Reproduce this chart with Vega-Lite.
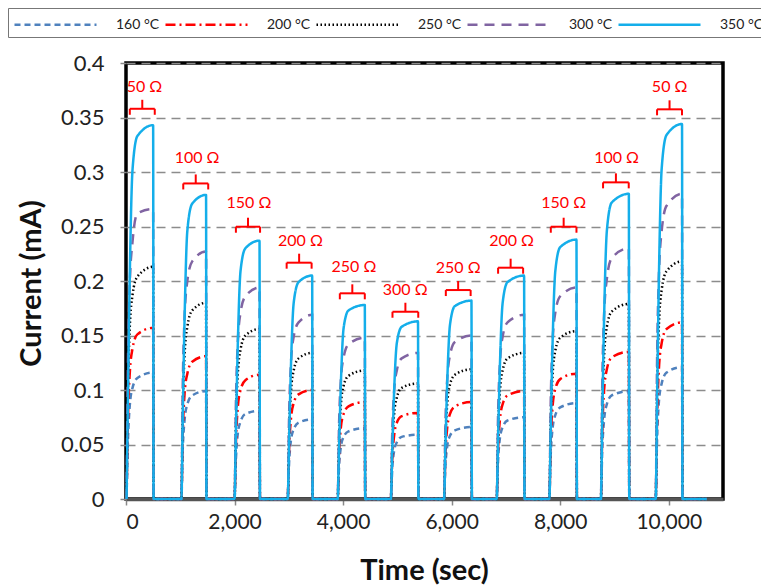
{
  "$schema": "https://vega.github.io/schema/vega-lite/v6.json",
  "width": 597,
  "height": 436,
  "autosize": {"type": "none"},
  "padding": {"left": 126, "top": 63, "right": 38, "bottom": 89},
  "background": "white",
  "config": {
    "font": "Lato",
    "view": {"stroke": "#000000", "strokeWidth": 3.5},
    "axis": {"labelFont": "Lato", "titleFont": "Lato", "labelColor": "#222222", "titleColor": "#111111"},
    "legend": {
      "orient": "none", "legendX": -118, "legendY": -55, "direction": "horizontal",
      "symbolType": "M-1,0H7.2", "symbolSize": 400, "symbolStrokeWidth": 2.5,
      "labelFont": "Lato", "labelFontSize": 14, "labelColor": "#222222", "labelOffset": 80,
      "columnPadding": 0, "strokeColor": "#777777", "padding": 5, "fillColor": "white"
    }
  },
  "datasets": {
    "curves": [
      {"t": 10, "160 °C": 0, "200 °C": 0, "250 °C": 0, "300 °C": 0, "350 °C": 0},
      {"t": 35, "160 °C": 0.052, "200 °C": 0.071, "250 °C": 0.096, "300 °C": 0.121, "350 °C": 0.089},
      {"t": 70, "160 °C": 0.086, "200 °C": 0.116, "250 °C": 0.158, "300 °C": 0.198, "350 °C": 0.206},
      {"t": 120, "160 °C": 0.102, "200 °C": 0.138, "250 °C": 0.187, "300 °C": 0.236, "350 °C": 0.302},
      {"t": 210, "160 °C": 0.111, "200 °C": 0.151, "250 °C": 0.204, "300 °C": 0.262, "350 °C": 0.333},
      {"t": 500, "160 °C": 0.116, "200 °C": 0.157, "250 °C": 0.213, "300 °C": 0.266, "350 °C": 0.343},
      {"t": 508, "160 °C": 0, "200 °C": 0, "250 °C": 0, "300 °C": 0, "350 °C": 0},
      {"t": 1020, "160 °C": 0, "200 °C": 0, "250 °C": 0, "300 °C": 0, "350 °C": 0},
      {"t": 1045, "160 °C": 0.045, "200 °C": 0.059, "250 °C": 0.081, "300 °C": 0.102, "350 °C": 0.073},
      {"t": 1080, "160 °C": 0.073, "200 °C": 0.097, "250 °C": 0.133, "300 °C": 0.168, "350 °C": 0.167},
      {"t": 1130, "160 °C": 0.087, "200 °C": 0.115, "250 °C": 0.158, "300 °C": 0.200, "350 °C": 0.246},
      {"t": 1220, "160 °C": 0.095, "200 °C": 0.126, "250 °C": 0.173, "300 °C": 0.218, "350 °C": 0.271},
      {"t": 1475, "160 °C": 0.099, "200 °C": 0.131, "250 °C": 0.180, "300 °C": 0.227, "350 °C": 0.279},
      {"t": 1483, "160 °C": 0, "200 °C": 0, "250 °C": 0, "300 °C": 0, "350 °C": 0},
      {"t": 2000, "160 °C": 0, "200 °C": 0, "250 °C": 0, "300 °C": 0, "350 °C": 0},
      {"t": 2025, "160 °C": 0.036, "200 °C": 0.051, "250 °C": 0.070, "300 °C": 0.087, "350 °C": 0.062},
      {"t": 2060, "160 °C": 0.060, "200 °C": 0.084, "250 °C": 0.115, "300 °C": 0.144, "350 °C": 0.142},
      {"t": 2110, "160 °C": 0.071, "200 °C": 0.100, "250 °C": 0.137, "300 °C": 0.171, "350 °C": 0.209},
      {"t": 2200, "160 °C": 0.078, "200 °C": 0.109, "250 °C": 0.150, "300 °C": 0.186, "350 °C": 0.230},
      {"t": 2460, "160 °C": 0.081, "200 °C": 0.114, "250 °C": 0.156, "300 °C": 0.194, "350 °C": 0.237},
      {"t": 2468, "160 °C": 0, "200 °C": 0, "250 °C": 0, "300 °C": 0, "350 °C": 0},
      {"t": 2980, "160 °C": 0, "200 °C": 0, "250 °C": 0, "300 °C": 0, "350 °C": 0},
      {"t": 3005, "160 °C": 0.033, "200 °C": 0.045, "250 °C": 0.060, "300 °C": 0.076, "350 °C": 0.053},
      {"t": 3040, "160 °C": 0.054, "200 °C": 0.074, "250 °C": 0.099, "300 °C": 0.125, "350 °C": 0.123},
      {"t": 3090, "160 °C": 0.064, "200 °C": 0.088, "250 °C": 0.118, "300 °C": 0.149, "350 °C": 0.180},
      {"t": 3180, "160 °C": 0.070, "200 °C": 0.096, "250 °C": 0.129, "300 °C": 0.162, "350 °C": 0.199},
      {"t": 3430, "160 °C": 0.073, "200 °C": 0.100, "250 °C": 0.134, "300 °C": 0.169, "350 °C": 0.205},
      {"t": 3438, "160 °C": 0, "200 °C": 0, "250 °C": 0, "300 °C": 0, "350 °C": 0},
      {"t": 3900, "160 °C": 0, "200 °C": 0, "250 °C": 0, "300 °C": 0, "350 °C": 0},
      {"t": 3925, "160 °C": 0.029, "200 °C": 0.040, "250 °C": 0.053, "300 °C": 0.067, "350 °C": 0.046},
      {"t": 3960, "160 °C": 0.048, "200 °C": 0.066, "250 °C": 0.087, "300 °C": 0.110, "350 °C": 0.107},
      {"t": 4010, "160 °C": 0.057, "200 °C": 0.078, "250 °C": 0.104, "300 °C": 0.130, "350 °C": 0.157},
      {"t": 4100, "160 °C": 0.062, "200 °C": 0.085, "250 °C": 0.113, "300 °C": 0.142, "350 °C": 0.173},
      {"t": 4400, "160 °C": 0.065, "200 °C": 0.089, "250 °C": 0.118, "300 °C": 0.148, "350 °C": 0.178},
      {"t": 4408, "160 °C": 0, "200 °C": 0, "250 °C": 0, "300 °C": 0, "350 °C": 0},
      {"t": 4880, "160 °C": 0, "200 °C": 0, "250 °C": 0, "300 °C": 0, "350 °C": 0},
      {"t": 4905, "160 °C": 0.027, "200 °C": 0.036, "250 °C": 0.048, "300 °C": 0.060, "350 °C": 0.042},
      {"t": 4940, "160 °C": 0.044, "200 °C": 0.058, "250 °C": 0.078, "300 °C": 0.099, "350 °C": 0.098},
      {"t": 4990, "160 °C": 0.052, "200 °C": 0.070, "250 °C": 0.093, "300 °C": 0.118, "350 °C": 0.143},
      {"t": 5080, "160 °C": 0.057, "200 °C": 0.076, "250 °C": 0.102, "300 °C": 0.129, "350 °C": 0.158},
      {"t": 5380, "160 °C": 0.059, "200 °C": 0.079, "250 °C": 0.106, "300 °C": 0.134, "350 °C": 0.163},
      {"t": 5388, "160 °C": 0, "200 °C": 0, "250 °C": 0, "300 °C": 0, "350 °C": 0},
      {"t": 5860, "160 °C": 0, "200 °C": 0, "250 °C": 0, "300 °C": 0, "350 °C": 0},
      {"t": 5885, "160 °C": 0.030, "200 °C": 0.040, "250 °C": 0.054, "300 °C": 0.068, "350 °C": 0.047},
      {"t": 5920, "160 °C": 0.049, "200 °C": 0.066, "250 °C": 0.088, "300 °C": 0.111, "350 °C": 0.109},
      {"t": 5970, "160 °C": 0.058, "200 °C": 0.078, "250 °C": 0.105, "300 °C": 0.132, "350 °C": 0.160},
      {"t": 6060, "160 °C": 0.063, "200 °C": 0.085, "250 °C": 0.114, "300 °C": 0.144, "350 °C": 0.177},
      {"t": 6365, "160 °C": 0.066, "200 °C": 0.089, "250 °C": 0.119, "300 °C": 0.150, "350 °C": 0.182},
      {"t": 6373, "160 °C": 0, "200 °C": 0, "250 °C": 0, "300 °C": 0, "350 °C": 0},
      {"t": 6830, "160 °C": 0, "200 °C": 0, "250 °C": 0, "300 °C": 0, "350 °C": 0},
      {"t": 6855, "160 °C": 0.034, "200 °C": 0.045, "250 °C": 0.060, "300 °C": 0.076, "350 °C": 0.053},
      {"t": 6890, "160 °C": 0.056, "200 °C": 0.073, "250 °C": 0.099, "300 °C": 0.125, "350 °C": 0.123},
      {"t": 6940, "160 °C": 0.066, "200 °C": 0.087, "250 °C": 0.118, "300 °C": 0.149, "350 °C": 0.180},
      {"t": 7030, "160 °C": 0.072, "200 °C": 0.095, "250 °C": 0.129, "300 °C": 0.162, "350 °C": 0.199},
      {"t": 7335, "160 °C": 0.075, "200 °C": 0.099, "250 °C": 0.134, "300 °C": 0.169, "350 °C": 0.205},
      {"t": 7343, "160 °C": 0, "200 °C": 0, "250 °C": 0, "300 °C": 0, "350 °C": 0},
      {"t": 7800, "160 °C": 0, "200 °C": 0, "250 °C": 0, "300 °C": 0, "350 °C": 0},
      {"t": 7825, "160 °C": 0.040, "200 °C": 0.052, "250 °C": 0.069, "300 °C": 0.087, "350 °C": 0.062},
      {"t": 7860, "160 °C": 0.065, "200 °C": 0.085, "250 °C": 0.114, "300 °C": 0.144, "350 °C": 0.143},
      {"t": 7910, "160 °C": 0.077, "200 °C": 0.101, "250 °C": 0.136, "300 °C": 0.171, "350 °C": 0.209},
      {"t": 8000, "160 °C": 0.084, "200 °C": 0.110, "250 °C": 0.148, "300 °C": 0.186, "350 °C": 0.231},
      {"t": 8300, "160 °C": 0.088, "200 °C": 0.115, "250 °C": 0.154, "300 °C": 0.194, "350 °C": 0.238},
      {"t": 8308, "160 °C": 0, "200 °C": 0, "250 °C": 0, "300 °C": 0, "350 °C": 0},
      {"t": 8750, "160 °C": 0, "200 °C": 0, "250 °C": 0, "300 °C": 0, "350 °C": 0},
      {"t": 8775, "160 °C": 0.045, "200 °C": 0.061, "250 °C": 0.081, "300 °C": 0.104, "350 °C": 0.073},
      {"t": 8810, "160 °C": 0.073, "200 °C": 0.100, "250 °C": 0.132, "300 °C": 0.170, "350 °C": 0.168},
      {"t": 8860, "160 °C": 0.087, "200 °C": 0.119, "250 °C": 0.158, "300 °C": 0.202, "350 °C": 0.246},
      {"t": 8950, "160 °C": 0.095, "200 °C": 0.130, "250 °C": 0.172, "300 °C": 0.221, "350 °C": 0.272},
      {"t": 9265, "160 °C": 0.099, "200 °C": 0.135, "250 °C": 0.179, "300 °C": 0.230, "350 °C": 0.280},
      {"t": 9273, "160 °C": 0, "200 °C": 0, "250 °C": 0, "300 °C": 0, "350 °C": 0},
      {"t": 9760, "160 °C": 0, "200 °C": 0, "250 °C": 0, "300 °C": 0, "350 °C": 0},
      {"t": 9785, "160 °C": 0.054, "200 °C": 0.073, "250 °C": 0.098, "300 °C": 0.126, "350 °C": 0.089},
      {"t": 9820, "160 °C": 0.090, "200 °C": 0.120, "250 °C": 0.161, "300 °C": 0.207, "350 °C": 0.206},
      {"t": 9870, "160 °C": 0.106, "200 °C": 0.143, "250 °C": 0.192, "300 °C": 0.246, "350 °C": 0.303},
      {"t": 9960, "160 °C": 0.116, "200 °C": 0.156, "250 °C": 0.209, "300 °C": 0.269, "350 °C": 0.334},
      {"t": 10245, "160 °C": 0.121, "200 °C": 0.162, "250 °C": 0.218, "300 °C": 0.280, "350 °C": 0.344},
      {"t": 10253, "160 °C": 0, "200 °C": 0, "250 °C": 0, "300 °C": 0, "350 °C": 0},
      {"t": 10700, "160 °C": 0, "200 °C": 0, "250 °C": 0, "300 °C": 0, "350 °C": 0}
    ],
    "brackets": [
      {"label": "50 Ω", "x1": 70, "x2": 530, "xm": 300, "tx": 340, "yb": 0.358, "ty": 0.378},
      {"label": "100 Ω", "x1": 1055, "x2": 1515, "xm": 1285, "tx": 1310, "yb": 0.2895, "ty": 0.3125},
      {"label": "150 Ω", "x1": 2025, "x2": 2470, "xm": 2248, "tx": 2265, "yb": 0.2498, "ty": 0.2718},
      {"label": "200 Ω", "x1": 2960, "x2": 3420, "xm": 3190, "tx": 3215, "yb": 0.2168, "ty": 0.237},
      {"label": "250 Ω", "x1": 3940, "x2": 4400, "xm": 4170, "tx": 4200, "yb": 0.1887, "ty": 0.2131},
      {"label": "300 Ω", "x1": 4910, "x2": 5385, "xm": 5148, "tx": 5145, "yb": 0.1718, "ty": 0.1917},
      {"label": "250 Ω", "x1": 5893, "x2": 6350, "xm": 6120, "tx": 6120, "yb": 0.1917, "ty": 0.2116},
      {"label": "200 Ω", "x1": 6856, "x2": 7317, "xm": 7087, "tx": 7105, "yb": 0.2122, "ty": 0.237},
      {"label": "150 Ω", "x1": 7827, "x2": 8300, "xm": 8064, "tx": 8065, "yb": 0.2498, "ty": 0.2718},
      {"label": "100 Ω", "x1": 8790, "x2": 9263, "xm": 9027, "tx": 9040, "yb": 0.2905, "ty": 0.3126},
      {"label": "50 Ω", "x1": 9785, "x2": 10245, "xm": 10015, "tx": 10017, "yb": 0.3575, "ty": 0.3777}
    ]
  },
  "layer": [
    {
      "data": {"name": "curves"},
      "transform": [
        {"fold": ["160 °C", "200 °C", "250 °C", "300 °C", "350 °C"], "as": ["series", "current"]}
      ],
      "mark": {"type": "line", "interpolate": "monotone", "strokeWidth": 2.5},
      "encoding": {
        "x": {
          "field": "t", "type": "quantitative",
          "scale": {"domain": [0, 11000], "nice": false, "zero": false},
          "axis": {
            "title": "Time (sec)", "values": [0, 2000, 4000, 6000, 8000, 10000], "format": ",.0f",
            "labelFontSize": 21, "labelPadding": 6, "tickSize": 6, "tickColor": "#888888", "tickWidth": 1.5,
            "domainColor": "#555555", "domainWidth": 3.5, "grid": false,
            "titleFontSize": 29, "titleFontWeight": "bold", "titleX": 298, "titleY": 71, "titleBaseline": "middle", "titleAlign": "center"
          }
        },
        "y": {
          "field": "current", "type": "quantitative",
          "scale": {"domain": [0, 0.4], "nice": false},
          "axis": {
            "title": "Current (mA)", "values": [0, 0.05, 0.1, 0.15, 0.2, 0.25, 0.3, 0.35, 0.4], "format": "~g",
            "labelFontSize": 22, "labelPadding": 16, "tickSize": 6, "tickColor": "#888888", "tickWidth": 1.5,
            "domain": false, "grid": true, "gridColor": "#8c8c8c", "gridDash": [9, 6], "gridWidth": 1.5,
            "titleFontSize": 29, "titleFontWeight": "bold", "titleAngle": -90, "titleX": -95, "titleY": 220, "titleBaseline": "middle", "titleAlign": "center"
          }
        },
        "color": {
          "field": "series", "type": "nominal",
          "scale": {"domain": ["160 °C", "200 °C", "250 °C", "300 °C", "350 °C"], "range": ["#4F81BD", "#FF0000", "#000000", "#8064A2", "#14AEEA"]},
          "legend": {"title": null}
        },
        "strokeDash": {
          "field": "series", "type": "nominal",
          "scale": {"domain": ["160 °C", "200 °C", "250 °C", "300 °C", "350 °C"], "range": [[6, 4], [10, 4, 2, 4], [1.5, 2.5], [10, 7], [1, 0]]},
          "legend": {"title": null}
        }
      }
    },
    {
      "data": {"name": "brackets"},
      "mark": {"type": "rule", "color": "#FF0000", "strokeWidth": 2},
      "encoding": {
        "x": {"field": "x1", "type": "quantitative"},
        "x2": {"field": "x2"},
        "y": {"field": "yb", "type": "quantitative"}
      }
    },
    {
      "data": {"name": "brackets"},
      "mark": {"type": "rule", "color": "#FF0000", "strokeWidth": 2, "y2Offset": 6},
      "encoding": {
        "x": {"field": "x1", "type": "quantitative"},
        "y": {"field": "yb", "type": "quantitative"},
        "y2": {"field": "yb"}
      }
    },
    {
      "data": {"name": "brackets"},
      "mark": {"type": "rule", "color": "#FF0000", "strokeWidth": 2, "y2Offset": 6},
      "encoding": {
        "x": {"field": "x2", "type": "quantitative"},
        "y": {"field": "yb", "type": "quantitative"},
        "y2": {"field": "yb"}
      }
    },
    {
      "data": {"name": "brackets"},
      "mark": {"type": "rule", "color": "#FF0000", "strokeWidth": 2, "y2Offset": -9},
      "encoding": {
        "x": {"field": "xm", "type": "quantitative"},
        "y": {"field": "yb", "type": "quantitative"},
        "y2": {"field": "yb"}
      }
    },
    {
      "data": {"name": "brackets"},
      "mark": {"type": "text", "color": "#FF0000", "fontSize": 16, "font": "Lato", "baseline": "middle", "align": "center"},
      "encoding": {
        "x": {"field": "tx", "type": "quantitative"},
        "y": {"field": "ty", "type": "quantitative"},
        "text": {"field": "label"}
      }
    }
  ]
}
